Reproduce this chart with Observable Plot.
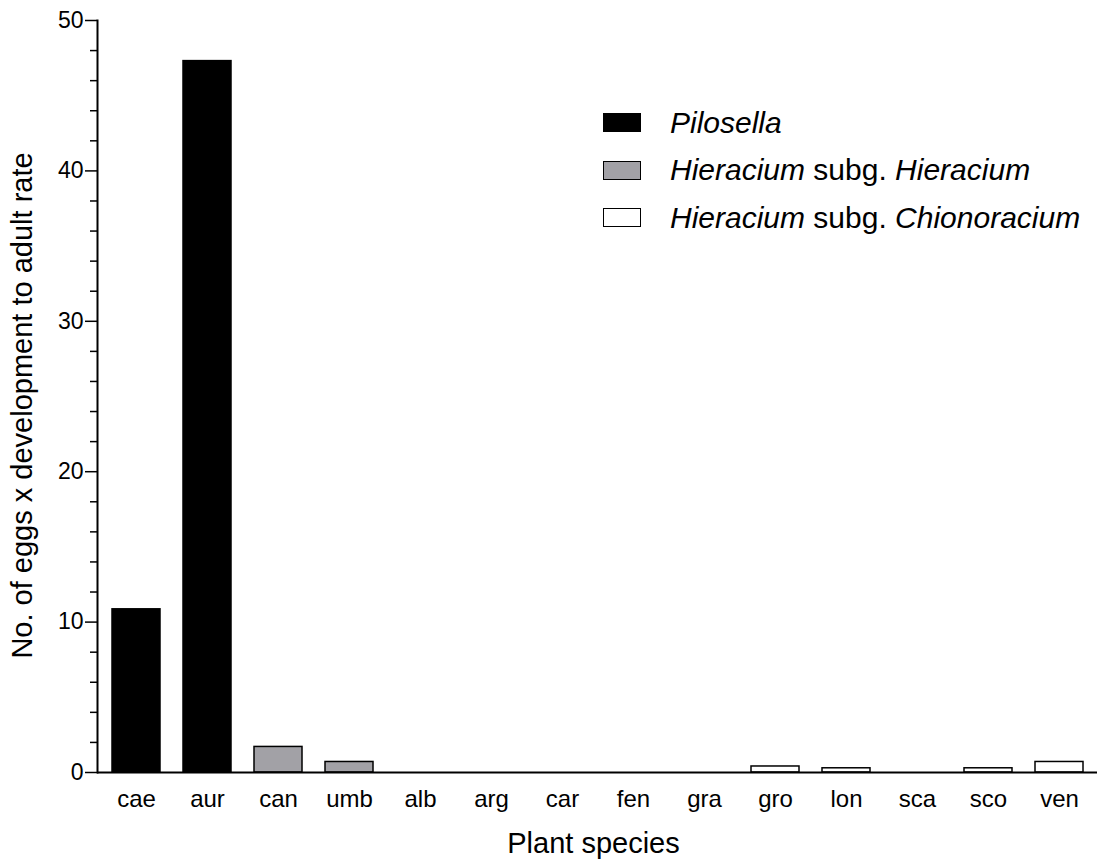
<!DOCTYPE html>
<html><head><meta charset="utf-8">
<script src="https://cdn.jsdelivr.net/npm/d3@7"></script>
<script src="https://cdn.jsdelivr.net/npm/@observablehq/plot@0.6"></script>
<style>
body{margin:0;background:#fff;font-family:"Liberation Sans",Arial,sans-serif;}
#wrap{position:relative;width:1105px;height:867px;}
#legend{position:absolute;left:603px;top:99px;font-size:30px;color:#000;}
.row{display:flex;align-items:center;height:47.5px;}
.sw{width:36px;height:17px;border:1.5px solid #000;margin-right:29px;box-sizing:content-box;}
i{font-style:italic;}
</style></head>
<body><div id="wrap"><div id="legend"></div></div>
<script>
const species = ["cae","aur","can","umb","alb","arg","car","fen","gra","gro","lon","sca","sco","ven"];
const values  = [10.85, 47.3, 1.7, 0.7, 0, 0, 0, 0, 0, 0.4, 0.28, 0, 0.28, 0.7];
const groups  = ["Pilosella","Pilosella","Hieracium","Hieracium","Chionoracium","Chionoracium","Chionoracium","Chionoracium","Chionoracium","Chionoracium","Chionoracium","Chionoracium","Chionoracium","Chionoracium"];
const groupNames = ["Pilosella","Hieracium","Chionoracium"];
const groupColors = ["#000000","#a2a1a6","#ffffff"];
const legendLabels = ["<i>Pilosella</i>","<i>Hieracium</i> subg. <i>Hieracium</i>","<i>Hieracium</i> subg. <i>Chionoracium</i>"];
const majorTicks = [0,10,20,30,40,50];
const minorTicks = d3.range(0,51,2).filter(d=>d%10!==0);

const data = species.map((s,i)=>({sp:s, v:values[i], g:groups[i]}));

const chart = Plot.plot({
  width:1105, height:867,
  marginLeft:97, marginRight:8, marginTop:20, marginBottom:95,
  style:{fontFamily:"Liberation Sans, Arial, sans-serif", background:"#fff"},
  x:{domain:species, paddingInner:0.328, paddingOuter:0.155, axis:null},
  y:{domain:[0,50], axis:null},
  color:{domain:groupNames, range:groupColors},
  marks:[
    Plot.barY(data,{x:"sp", y:"v", fill:"g", stroke:"#000", strokeWidth:1.5}),
    Plot.axisY({ticks:minorTicks, tickSize:7, text:null, strokeWidth:1.5, label:null}),
    Plot.axisY({ticks:majorTicks, tickSize:12, tickPadding:2, fontSize:23, strokeWidth:1.5, label:null}),
    Plot.axisX({tickSize:0, tickPadding:17, fontSize:24, label:null}),
    Plot.frame({anchor:"left", strokeWidth:2}),
    Plot.ruleY([0],{strokeWidth:2}),
    Plot.text(["Plant species"],{frameAnchor:"bottom", dy:80, dx:-4, fontSize:29, textAnchor:"middle"}),
    Plot.text(["No. of eggs x development to adult rate"],{frameAnchor:"left", rotate:-90, dx:-75, dy:9, fontSize:29, textAnchor:"middle"})
  ]
});
document.getElementById("wrap").prepend(chart);
const lg = document.getElementById("legend");
groupNames.forEach((g,i)=>{
  const r=document.createElement("div"); r.className="row";
  r.innerHTML=`<div class="sw" style="background:${groupColors[i]}"></div><span>${legendLabels[i]}</span>`;
  lg.appendChild(r);
});
</script></body></html>
